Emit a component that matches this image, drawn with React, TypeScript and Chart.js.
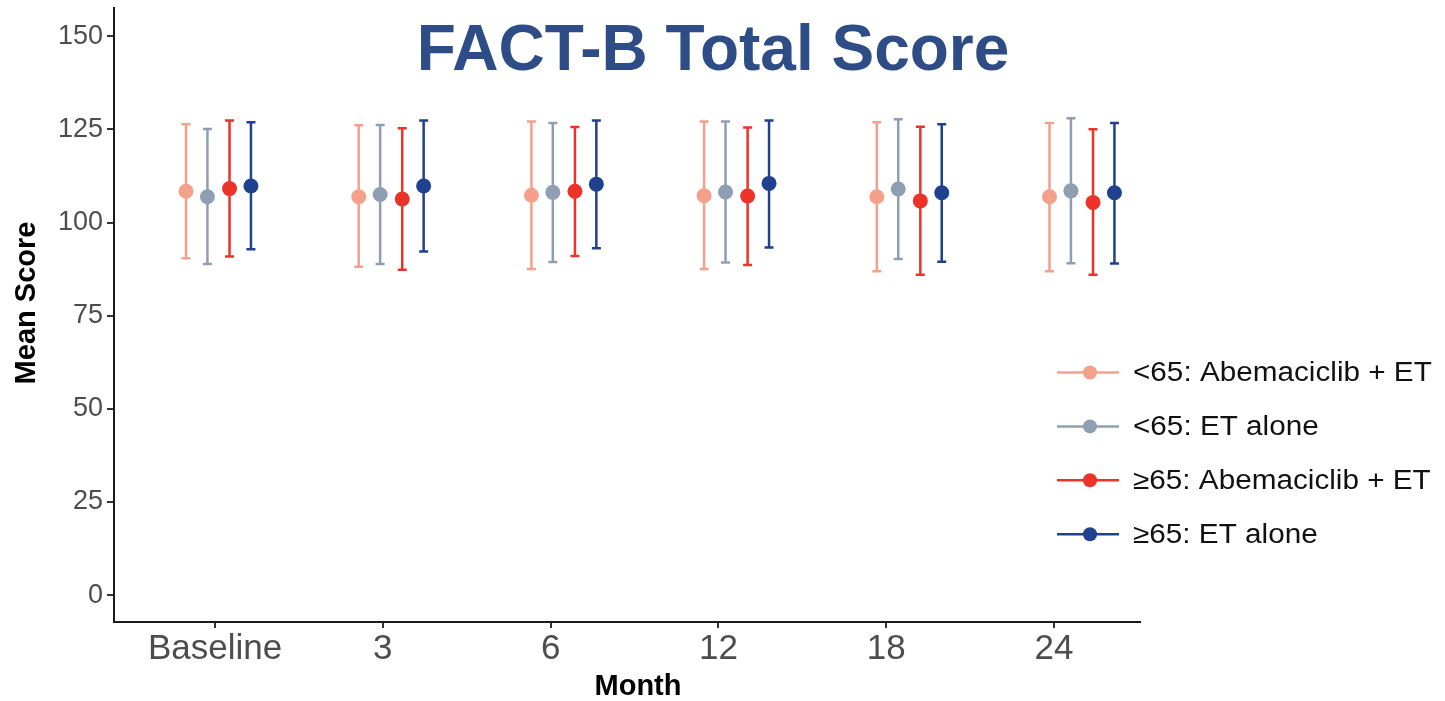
import React, { useEffect, useRef } from "react";
import { Chart, registerables } from "chart.js";

Chart.register(...registerables);

// ---- Data ----
const months = ["Baseline", "3", "6", "12", "18", "24"];
const seriesLabels = [
  "<65: Abemaciclib + ET",
  "<65: ET alone",
  "≥65: Abemaciclib + ET",
  "≥65: ET alone",
];
const seriesColors = ["#F5A08A", "#8E9EB3", "#EC3329", "#1F418F"];

const meanLt65Abema = [108.4, 106.9, 107.3, 107.2, 106.9, 106.9];
const loLt65Abema = [90.4, 88.1, 87.5, 87.5, 86.9, 86.9];
const hiLt65Abema = [126.4, 126.1, 127.1, 127.1, 126.9, 126.7];

const meanLt65Et = [106.9, 107.5, 108.1, 108.2, 109.0, 108.5];
const loLt65Et = [88.9, 88.9, 89.4, 89.3, 90.2, 89.1];
const hiLt65Et = [125.1, 126.2, 126.7, 127.1, 127.7, 128.0];

const meanGe65Abema = [109.1, 106.3, 108.4, 107.1, 105.8, 105.4];
const loGe65Abema = [90.9, 87.3, 91.0, 88.6, 86.0, 86.0];
const hiGe65Abema = [127.4, 125.3, 125.6, 125.5, 125.7, 125.0];

const meanGe65Et = [109.8, 109.8, 110.3, 110.5, 108.0, 108.0];
const loGe65Et = [92.8, 92.2, 93.1, 93.3, 89.5, 89.0];
const hiGe65Et = [126.9, 127.4, 127.4, 127.4, 126.4, 126.7];

const yTicks = [0, 25, 50, 75, 100, 125, 150];

const seriesMeans = [meanLt65Abema, meanLt65Et, meanGe65Abema, meanGe65Et];
const seriesLo = [loLt65Abema, loLt65Et, loGe65Abema, loGe65Et];
const seriesHi = [hiLt65Abema, hiLt65Et, hiGe65Abema, hiGe65Et];
const dodge = [-0.188, -0.064, 0.064, 0.188];

const FONT = '"Liberation Sans", Arial, Helvetica, sans-serif';

const errorBarPlugin = {
  id: "errorBars",
  beforeDatasetsDraw(chart: any) {
    const ctx = chart.ctx;
    const yScale = chart.scales.y;
    chart.data.datasets.forEach((ds: any, di: number) => {
      const meta = chart.getDatasetMeta(di);
      ctx.save();
      ctx.strokeStyle = ds.backgroundColor;
      ctx.lineWidth = 2.5;
      meta.data.forEach((pt: any, k: number) => {
        const d = ds.data[k];
        const x = pt.x;
        const yl = yScale.getPixelForValue(d.lo);
        const yh = yScale.getPixelForValue(d.hi);
        ctx.beginPath();
        ctx.moveTo(x, yl);
        ctx.lineTo(x, yh);
        ctx.moveTo(x - 4.5, yl);
        ctx.lineTo(x + 4.5, yl);
        ctx.moveTo(x - 4.5, yh);
        ctx.lineTo(x + 4.5, yh);
        ctx.stroke();
      });
      ctx.restore();
    });
  },
};

const decorPlugin = {
  id: "decor",
  afterDraw(chart: any) {
    const ctx = chart.ctx;
    ctx.save();
    // Title
    ctx.fillStyle = "#2E4D87";
    ctx.font = `bold 64px ${FONT}`;
    ctx.textAlign = "center";
    ctx.textBaseline = "middle";
    ctx.fillText("FACT-B Total Score", 713, 52);

    // Axis titles
    ctx.fillStyle = "#000";
    ctx.font = `bold 29px ${FONT}`;
    ctx.fillText("Month", 638, 687);
    ctx.save();
    ctx.translate(27, 303);
    ctx.rotate(-Math.PI / 2);
    ctx.fillText("Mean Score", 0, 0);
    ctx.restore();

    // Legend
    ctx.font = `27px ${FONT}`;
    ctx.textAlign = "left";
    chart.data.datasets.forEach((ds: any, i: number) => {
      const y = 372.5 + i * 53.9;
      ctx.strokeStyle = ds.backgroundColor;
      ctx.lineWidth = 2.5;
      ctx.beginPath();
      ctx.moveTo(1057, y);
      ctx.lineTo(1119, y);
      ctx.stroke();
      ctx.fillStyle = ds.backgroundColor;
      ctx.beginPath();
      ctx.arc(1090, y, 7, 0, Math.PI * 2);
      ctx.fill();
      ctx.fillStyle = "#111";
      ctx.save();
      ctx.translate(1133, y + 1);
      ctx.scale(1.1, 1);
      ctx.fillText(ds.label, 0, 0);
      ctx.restore();
    });
    ctx.restore();
  },
};

export default function App() {
  const ref = useRef<HTMLCanvasElement>(null);

  useEffect(() => {
    if (!ref.current) return;
    const datasets = seriesLabels.map((label, s) => ({
      label,
      data: months.map((_, i) => ({
        x: i + dodge[s],
        y: seriesMeans[s][i],
        lo: seriesLo[s][i],
        hi: seriesHi[s][i],
      })),
      backgroundColor: seriesColors[s],
      borderColor: seriesColors[s],
      pointRadius: 7.5,
      pointHoverRadius: 7.5,
      pointBorderWidth: 0,
      showLine: false,
      xAxisID: "xp",
      yAxisID: "y",
    }));

    const chart = new Chart(ref.current, {
      type: "scatter",
      data: { datasets } as any,
      plugins: [errorBarPlugin, decorPlugin],
      options: {
        animation: false,
        responsive: true,
        maintainAspectRatio: false,
        events: [],
        layout: { padding: { left: 0, right: 305, top: 5, bottom: 0 } },
        plugins: {
          legend: { display: false },
          tooltip: { enabled: false },
          title: { display: false },
        },
        scales: {
          x: {
            type: "linear",
            position: "bottom",
            min: -0.602,
            max: 5.512,
            afterBuildTicks: (scale: any) => {
              scale.ticks = months.map((_, i) => ({ value: i }));
            },
            afterFit: (scale: any) => {
              scale.height = 79;
              scale.paddingLeft = 0;
              scale.paddingRight = 0;
            },
            ticks: {
              font: { family: FONT, size: 35 },
              color: "#4D4D4D",
              padding: 0,
              autoSkip: false,
              maxRotation: 0,
              callback: (v: any) => months[Math.round(Number(v))] ?? "",
            },
            grid: {
              drawOnChartArea: false,
              drawTicks: true,
              tickLength: 6,
              color: "#333",
              lineWidth: 2,
            },
            border: { display: true, color: "#1A1A1A", width: 2 },
          },
          xp: {
            type: "linear",
            display: false,
            min: -0.605,
            max: 5.336,
          },
          y: {
            type: "linear",
            position: "left",
            min: -7.2,
            max: 157.7,
            afterBuildTicks: (scale: any) => {
              scale.ticks = yTicks.map((v) => ({ value: v }));
            },
            afterFit: (scale: any) => {
              scale.width = 114;
              scale.paddingTop = 0;
              scale.paddingBottom = 0;
            },
            ticks: {
              font: { family: FONT, size: 27 },
              color: "#4D4D4D",
              padding: 4,
            },
            grid: {
              drawOnChartArea: false,
              drawTicks: true,
              tickLength: 7,
              color: "#333",
              lineWidth: 2,
            },
            border: { display: true, color: "#1A1A1A", width: 2 },
          },
        },
      } as any,
    });
    return () => chart.destroy();
  }, []);

  return (
    <div
      style={{
        position: "absolute",
        left: 0,
        top: 0,
        width: 1445,
        height: 701,
        background: "#fff",
      }}
    >
      <canvas ref={ref} />
    </div>
  );
}
